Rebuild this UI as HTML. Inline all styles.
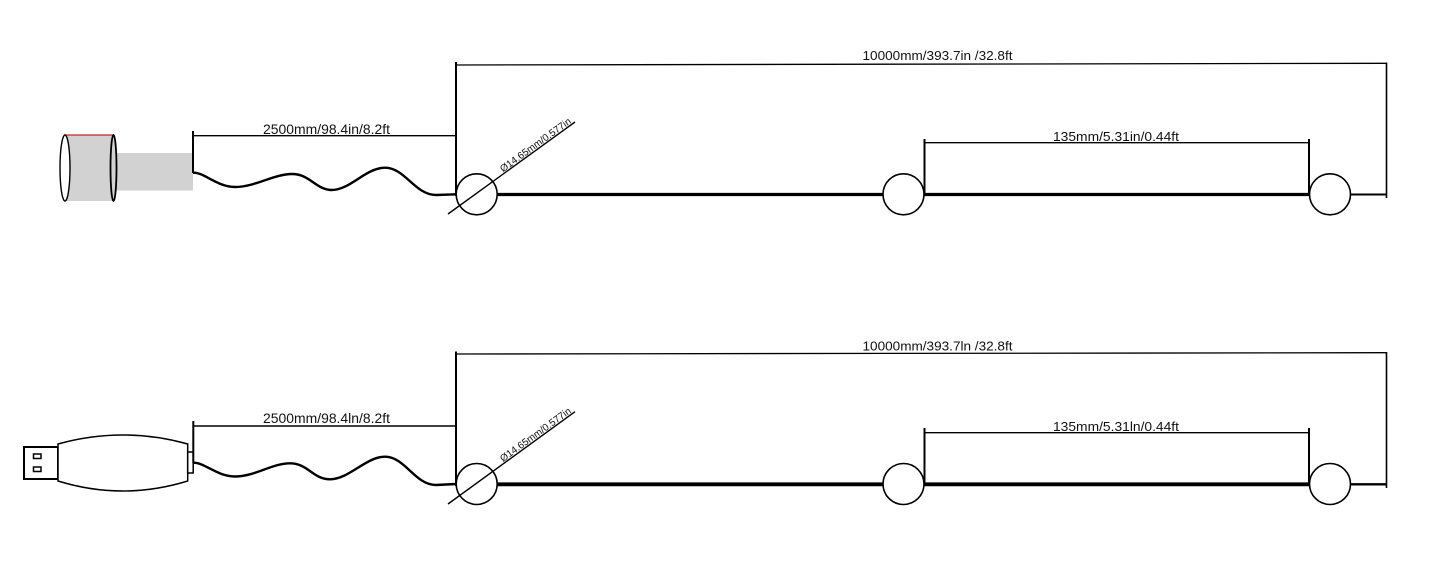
<!DOCTYPE html>
<html><head><meta charset="utf-8"><style>
html,body{margin:0;padding:0;background:#fff;}
svg{display:block;}
text{font-family:"Liberation Sans",Arial,sans-serif;fill:#111;}
</style></head><body>
<svg width="1441" height="570" viewBox="0 0 1441 570" xmlns="http://www.w3.org/2000/svg">
<rect width="1441" height="570" fill="#fff"/>

<!-- ============ TOP ============ -->
<!-- connector -->
<rect x="65" y="135" width="49" height="66" fill="#d2d2d2"/>
<line x1="64" y1="135" x2="114" y2="135" stroke="#c0282a" stroke-width="1.3"/>
<ellipse cx="65" cy="168" rx="5" ry="33" fill="#fff" stroke="#000" stroke-width="1.4"/>
<rect x="115" y="153" width="78" height="37.5" fill="#d2d2d2"/>
<ellipse cx="113.5" cy="168" rx="3" ry="33" fill="#d2d2d2" stroke="#000" stroke-width="1.8"/>

<!-- 2500 dimension -->
<line x1="193" y1="131" x2="193" y2="173" stroke="#000" stroke-width="2"/>
<line x1="193" y1="135.7" x2="456" y2="135.7" stroke="#000" stroke-width="1.4"/>
<text x="263" y="134" font-size="13.5" textLength="127" lengthAdjust="spacingAndGlyphs">2500mm/98.4in/8.2ft</text>

<!-- wave cable -->
<path d="M193,172.7 C204,172 217,187 235,187 C255,187 274,174 292,174 C310,174 316,190 332,190 C350,190 366,167.7 385,167.7 C405,167.7 415,195 436,195 L456,194.3" fill="none" stroke="#000" stroke-width="2.4"/>

<!-- 10000 dimension -->
<line x1="456" y1="62" x2="456" y2="196" stroke="#000" stroke-width="2"/>
<line x1="456" y1="65" x2="1386" y2="63.3" stroke="#000" stroke-width="1.3"/>
<line x1="1386.5" y1="62.5" x2="1386.5" y2="198" stroke="#000" stroke-width="1.6"/>
<text x="862.5" y="60" font-size="13" textLength="150" lengthAdjust="spacingAndGlyphs">10000mm/393.7in /32.8ft</text>

<!-- main line -->
<line x1="497" y1="194.5" x2="883" y2="194.5" stroke="#000" stroke-width="3.2"/>
<line x1="924" y1="194.5" x2="1309" y2="194.5" stroke="#000" stroke-width="3.2"/>
<line x1="1350" y1="194.5" x2="1386" y2="194.5" stroke="#000" stroke-width="2"/>

<!-- circles -->
<circle cx="476.7" cy="194.3" r="20.5" fill="#fff" stroke="#000" stroke-width="1.6"/>
<circle cx="903.5" cy="194.3" r="20.5" fill="#fff" stroke="#000" stroke-width="1.6"/>
<circle cx="1330" cy="194.3" r="20.5" fill="#fff" stroke="#000" stroke-width="1.6"/>

<!-- diameter -->
<line x1="448" y1="214" x2="575" y2="122" stroke="#000" stroke-width="1.4"/>
<text transform="translate(503,172.5) rotate(-35.9)" font-size="10" textLength="85" lengthAdjust="spacingAndGlyphs">Ø14.65mm/0.577in</text>

<!-- 135 dimension -->
<line x1="924.5" y1="139" x2="924.5" y2="195" stroke="#000" stroke-width="2"/>
<line x1="1309" y1="139" x2="1309" y2="195" stroke="#000" stroke-width="2"/>
<line x1="924" y1="142.7" x2="1309" y2="142.7" stroke="#000" stroke-width="1.4"/>
<text x="1053" y="141" font-size="13" textLength="126" lengthAdjust="spacingAndGlyphs">135mm/5.31in/0.44ft</text>

<!-- ============ BOTTOM ============ -->
<!-- USB plug -->
<rect x="24" y="447" width="34" height="32" fill="#fff" stroke="#000" stroke-width="2"/>
<rect x="33.5" y="454" width="7.5" height="4.5" fill="#fff" stroke="#000" stroke-width="1.5"/>
<rect x="33.5" y="467" width="7.5" height="4.5" fill="#fff" stroke="#000" stroke-width="1.5"/>
<path d="M58,444 Q122.8,426 187.7,444 L187.7,481 Q122.8,501 58,481 Z" fill="#fff" stroke="#000" stroke-width="1.5"/>
<rect x="187.7" y="452" width="5.5" height="21" fill="#fff" stroke="#000" stroke-width="1.5"/>

<!-- 2500 dimension -->
<line x1="193.3" y1="421" x2="193.3" y2="463" stroke="#000" stroke-width="2"/>
<line x1="193" y1="426" x2="456" y2="426" stroke="#000" stroke-width="1.4"/>
<text x="263" y="423" font-size="13.5" textLength="127" lengthAdjust="spacingAndGlyphs">2500mm/98.4ln/8.2ft</text>

<!-- wave cable -->
<path d="M193,462.7 C204,462 217,476.5 235,476.5 C255,476.5 272,463.3 290,463.3 C308,463.3 313,479.3 330,479.3 C349,479.3 366,456.7 385,456.7 C405,456.7 415,485 436,485 L456,484" fill="none" stroke="#000" stroke-width="2.4"/>

<!-- 10000 dimension -->
<line x1="456" y1="351.5" x2="456" y2="486" stroke="#000" stroke-width="2"/>
<line x1="456" y1="354" x2="1386" y2="352.7" stroke="#000" stroke-width="1.3"/>
<line x1="1386.5" y1="352" x2="1386.5" y2="488" stroke="#000" stroke-width="1.6"/>
<text x="862.5" y="350.5" font-size="13" textLength="150" lengthAdjust="spacingAndGlyphs">10000mm/393.7ln /32.8ft</text>

<!-- main line -->
<line x1="497" y1="484.3" x2="883" y2="484.3" stroke="#000" stroke-width="3.8"/>
<line x1="924" y1="484.3" x2="1309" y2="484.3" stroke="#000" stroke-width="3.8"/>
<line x1="1350" y1="484.3" x2="1386" y2="484.3" stroke="#000" stroke-width="2.4"/>

<!-- circles -->
<circle cx="476.7" cy="484" r="20.5" fill="#fff" stroke="#000" stroke-width="1.6"/>
<circle cx="903.5" cy="484" r="20.5" fill="#fff" stroke="#000" stroke-width="1.6"/>
<circle cx="1330" cy="484" r="20.5" fill="#fff" stroke="#000" stroke-width="1.6"/>

<!-- diameter -->
<line x1="448" y1="504" x2="575" y2="411.7" stroke="#000" stroke-width="1.4"/>
<text transform="translate(503,462.2) rotate(-35.9)" font-size="10" textLength="85" lengthAdjust="spacingAndGlyphs">Ø14.65mm/0.577in</text>

<!-- 135 dimension -->
<line x1="924.5" y1="428" x2="924.5" y2="485" stroke="#000" stroke-width="2"/>
<line x1="1309" y1="428" x2="1309" y2="485" stroke="#000" stroke-width="2"/>
<line x1="924" y1="432.7" x2="1309" y2="432.7" stroke="#000" stroke-width="1.4"/>
<text x="1053" y="431" font-size="13" textLength="126" lengthAdjust="spacingAndGlyphs">135mm/5.31ln/0.44ft</text>
</svg>
</body></html>
